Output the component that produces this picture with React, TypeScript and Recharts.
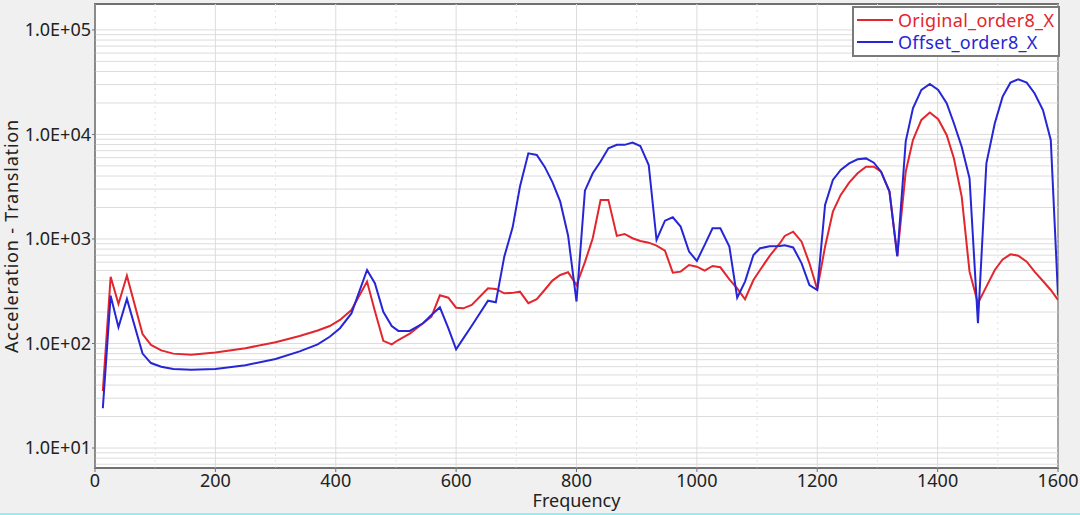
import React from 'react';
import {
  LineChart,
  Line,
  XAxis,
  YAxis,
  CartesianGrid,
  ReferenceLine,
  ReferenceArea,
  Legend,
} from 'recharts';

// frequency samples (Hz) shared by both curves
const freqs = [
  13, 26, 39, 53, 79, 93, 110, 130, 160, 200,
  250, 300, 340, 370, 390, 407, 426, 452, 465, 479,
  493, 504, 523, 545, 559, 573, 587, 600, 612, 626,
  653, 666, 680, 694, 706, 720, 734, 747, 760, 773,
  786, 800, 814, 827, 840, 853, 867, 880, 893, 906,
  920, 933, 947, 960, 973, 987, 1000, 1013, 1026, 1039,
  1054, 1067, 1080, 1094, 1105, 1121, 1138, 1146, 1160, 1174,
  1187, 1200, 1213, 1226, 1239, 1253, 1267, 1281, 1294, 1306,
  1320, 1333, 1347, 1359, 1373, 1387, 1401, 1415, 1427, 1440,
  1453, 1467, 1481, 1495, 1508, 1521, 1534, 1548, 1561, 1575,
  1588, 1600,
];

const original = [
  35, 435, 239, 445, 123, 97, 86, 80, 78, 82,
  90, 103, 118, 133, 147, 168, 209, 391, 205, 106,
  98, 108, 124, 156, 181, 289, 274, 220, 217, 234,
  337, 333, 302, 305, 313, 243, 265, 325, 400, 452,
  480, 363, 600, 1016, 2360, 2360, 1070, 1117, 1016, 957,
  922, 863, 773, 476, 487, 564, 543, 498, 552, 536,
  411, 337, 265, 405, 505, 690, 910, 1070, 1175, 942,
  585, 330, 844, 1825, 2640, 3460, 4250, 4920, 4920, 4400,
  2840, 690, 4400, 8850, 13770, 16200, 13970, 9890, 5920, 2540,
  487, 243, 350, 505, 638, 713, 692, 607, 487, 396,
  325, 261,
];

const offset = [
  24, 287, 143, 267, 80, 65, 60, 57, 56, 57,
  62, 71, 84, 98, 116, 140, 194, 505, 377, 201,
  147, 132, 132, 156, 187, 222, 140, 88, 112, 148,
  257, 248, 677, 1300, 3160, 6600, 6370, 4920, 3500, 2275,
  1080, 252, 2900, 4250, 5500, 7380, 7950, 7950, 8350, 7760,
  5100, 978, 1496, 1614, 1313, 757, 617, 877, 1265, 1265,
  844, 274, 391, 703, 815, 850, 857, 870, 830, 585,
  363, 325, 2115, 3670, 4570, 5290, 5780, 5900, 5370, 4400,
  2840, 680, 8600, 17800, 26700, 30400, 26700, 19900, 12800, 7640,
  3810, 156, 5300, 12800, 23000, 31300, 33700, 31300, 24800, 17100,
  8850, 290,
];

const xTicks = [0, 200, 400, 600, 800, 1000, 1200, 1400, 1600];
const xMinorTicks = [100, 300, 500, 700, 900, 1100, 1300, 1500];
const yTicks = [10, 100, 1000, 10000, 100000];
const yMinorTicks = [7, 8, 9].concat(
  ...[10, 100, 1000, 10000].map((d) => [2, 3, 4, 5, 6, 7, 8, 9].map((m) => m * d))
);

const series = [
  { key: 'original', name: 'Original_order8_X', color: '#e3262d' },
  { key: 'offset', name: 'Offset_order8_X', color: '#2626d6' },
];

const data = freqs.map((f, i) => ({ freq: f, original: original[i], offset: offset[i] }));

const yMin = 6.44;
const yMax = 177000;

const fmtExp = (v: number) => {
  const e = Math.round(Math.log10(v));
  return `1.0E+${String(e).padStart(2, '0')}`;
};

function LegendBox() {
  return (
    <div
      style={{
        background: '#fff',
        border: '2px solid #7a7a7a',
        padding: '1px 4px 2px 3px',
        fontSize: 18,
        letterSpacing: 0.3,
        lineHeight: '22px',
      }}
    >
      {series.map((s) => (
        <div key={s.key} style={{ display: 'flex', alignItems: 'center', color: s.color }}>
          <span
            style={{ display: 'inline-block', width: 36, height: 2, background: s.color, marginRight: 5 }}
          />
          {s.name}
        </div>
      ))}
    </div>
  );
}

export default function App() {
  return (
    <div
      style={{
        position: 'fixed',
        left: 0,
        top: 0,
        width: 1080,
        height: 515,
        background: '#f0f0f0',
        fontFamily: '"Noto Sans", sans-serif',
      }}
    >
      <LineChart
        width={1080}
        height={513}
        data={data}
        margin={{ top: 4, right: 22, left: 0, bottom: 0 }}
      >
        <CartesianGrid fill="#ffffff" horizontal={false} vertical={false} />
        {yMinorTicks.concat(yTicks).map((v) => (
          <ReferenceLine key={`h${v}`} y={v} stroke="#dcdcdc" strokeWidth={1} />
        ))}
        {xTicks.map((v) => (
          <ReferenceLine key={`v${v}`} x={v} stroke="#dcdcdc" strokeWidth={1} />
        ))}
        {xMinorTicks.map((v) => (
          <ReferenceLine key={`m${v}`} x={v} stroke="#e2e2e2" strokeDasharray="2 4" />
        ))}
        <XAxis
          dataKey="freq"
          type="number"
          domain={[0, 1600]}
          ticks={xTicks}
          allowDataOverflow
          height={45}
          tickSize={4}
          tickMargin={2}
          stroke="#707070"
          tick={{ fill: '#222', fontSize: 18 }}
          label={{ value: 'Frequency', position: 'insideBottom', offset: 6, fill: '#222', fontSize: 18 }}
        />
        <YAxis
          scale="log"
          type="number"
          domain={[yMin, yMax]}
          ticks={yTicks}
          allowDataOverflow
          width={95}
          tickSize={3}
          tickMargin={1}
          stroke="#707070"
          tickFormatter={fmtExp}
          tick={{ fill: '#222', fontSize: 18 }}
          label={{
            value: 'Acceleration - Translation',
            angle: -90,
            position: 'insideLeft',
            offset: 0,
            dx: 12,
            fill: '#222',
            fontSize: 18,
            style: { textAnchor: 'middle', letterSpacing: 0.8 },
          }}
        />
        <ReferenceArea x1={0} x2={1600} y1={yMin} y2={yMax} fill="none" stroke="#707070" strokeWidth={2} />
        <Legend
          verticalAlign="middle"
          align="center"
          layout="horizontal"
          wrapperStyle={{ top: 6, left: 852, width: 'auto' }}
          content={() => <LegendBox />}
        />
        {series.map((s) => (
          <Line
            key={s.key}
            dataKey={s.key}
            name={s.name}
            type="linear"
            stroke={s.color}
            strokeWidth={2}
            dot={false}
            isAnimationActive={false}
          />
        ))}
      </LineChart>
      <div style={{ position: 'absolute', left: 0, bottom: 0, width: 1080, height: 2, background: '#8ef0f6' }} />
    </div>
  );
}
